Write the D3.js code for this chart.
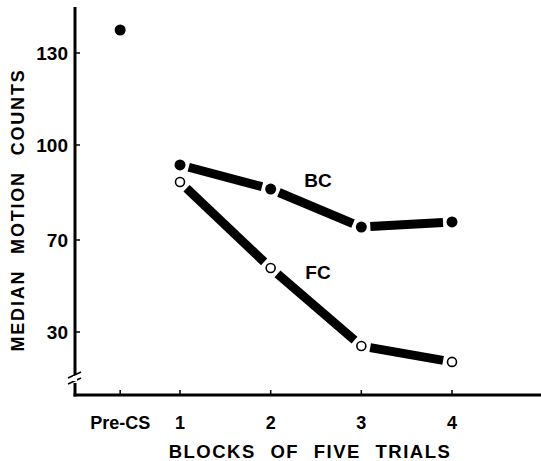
<!DOCTYPE html>
<html>
<head>
<meta charset="utf-8">
<script src="https://cdn.jsdelivr.net/npm/d3@7"></script>
<style>
  body { margin: 0; background: #fff; }
  text { font-family: "Liberation Sans", Arial, sans-serif; font-weight: bold; fill: #000; }
</style>
</head>
<body>
<div id="chart"></div>
<script>
'use strict'

// data
const xLabels = ['Pre-CS', '1', '2', '3', '4']
const xValues = [0.34, 1, 2, 3, 4]
const blocks = [1, 2, 3, 4]
const preCS = 137.5
const bcValues = [93.7, 86.1, 74.1, 75.7]
const fcValues = [88.3, 57.8, 23.9, 17.0]
const yTicks = [30, 70, 100, 130]

const width = 541
const height = 461

const svg = d3.select('#chart').append('svg')
  .attr('width', width)
  .attr('height', height)

// the printed axis is not evenly spaced, so map each labelled value
const y = d3.scaleLinear().domain(yTicks).range([332, 240, 145, 53])
const x = d3.scaleLinear().domain([1, 4]).range([180, 452])

const axisX = 75
const axisY = 395

// y axis with a break near the bottom
svg.append('line')
  .attr('x1', axisX).attr('x2', axisX)
  .attr('y1', 7).attr('y2', 375)
  .attr('stroke', '#000').attr('stroke-width', 3)
svg.append('line')
  .attr('x1', axisX).attr('x2', axisX)
  .attr('y1', 383).attr('y2', axisY + 1.5)
  .attr('stroke', '#000').attr('stroke-width', 3)
svg.selectAll('.brk').data([0, 6]).enter().append('line')
  .attr('x1', d => axisX - 7).attr('y1', d => 378 + d)
  .attr('x2', d => axisX + 6).attr('y2', d => 372 + d)
  .attr('stroke', '#000').attr('stroke-width', 1.5)
svg.append('rect')
  .attr('x', axisX - 2).attr('y', 376).attr('width', 4).attr('height', 5)
  .attr('fill', '#fff')

// x axis
svg.append('line')
  .attr('x1', axisX - 1.5).attr('x2', width)
  .attr('y1', axisY).attr('y2', axisY)
  .attr('stroke', '#000').attr('stroke-width', 3)

// y ticks
svg.selectAll('.ytick').data(yTicks).enter().append('line')
  .attr('x1', axisX).attr('x2', axisX + 5)
  .attr('y1', d => y(d)).attr('y2', d => y(d))
  .attr('stroke', '#000').attr('stroke-width', 1.5)
svg.selectAll('.ylab').data(yTicks).enter().append('text')
  .attr('x', 68).attr('y', d => y(d) + 7)
  .attr('text-anchor', 'end')
  .style('font-size', '19px')
  .text(d => d)

// x ticks
svg.selectAll('.xtick').data(xValues).enter().append('line')
  .attr('x1', d => x(d)).attr('x2', d => x(d))
  .attr('y1', axisY).attr('y2', axisY - 5)
  .attr('stroke', '#000').attr('stroke-width', 1.5)
svg.selectAll('.xlab').data(xLabels).enter().append('text')
  .attr('x', (d, i) => x(xValues[i]))
  .attr('y', 429)
  .attr('text-anchor', 'middle')
  .style('font-size', '18px')
  .text(d => d)

// axis titles
svg.append('text')
  .attr('x', 310).attr('y', 458)
  .attr('text-anchor', 'middle')
  .style('font-size', '18.5px')
  .style('letter-spacing', '1.5px')
  .style('word-spacing', '8px')
  .text('BLOCKS OF FIVE TRIALS')
svg.append('text')
  .attr('transform', 'translate(24,210) rotate(-90)')
  .attr('text-anchor', 'middle')
  .style('font-size', '18px')
  .style('letter-spacing', '1.8px')
  .style('word-spacing', '9px')
  .text('MEDIAN MOTION COUNTS')

// thick segments that stop short of the markers
function drawSeries (values) {
  const pts = blocks.map((b, i) => [x(b), y(values[i])])
  const segs = d3.pairs(pts)
  const gap = 9
  svg.append('g').selectAll('line').data(segs).enter().append('line')
    .attr('x1', d => {
      const a = Math.atan2(d[1][1] - d[0][1], d[1][0] - d[0][0])
      return d[0][0] + gap * Math.cos(a)
    })
    .attr('y1', d => {
      const a = Math.atan2(d[1][1] - d[0][1], d[1][0] - d[0][0])
      return d[0][1] + gap * Math.sin(a)
    })
    .attr('x2', d => {
      const a = Math.atan2(d[1][1] - d[0][1], d[1][0] - d[0][0])
      return d[1][0] - gap * Math.cos(a)
    })
    .attr('y2', d => {
      const a = Math.atan2(d[1][1] - d[0][1], d[1][0] - d[0][0])
      return d[1][1] - gap * Math.sin(a)
    })
    .attr('stroke', '#000')
    .attr('stroke-width', 9)
}

drawSeries(bcValues)
drawSeries(fcValues)

svg.append('g').selectAll('circle').data(bcValues).enter().append('circle')
  .attr('cx', (d, i) => x(blocks[i]))
  .attr('cy', d => y(d))
  .attr('r', 5.5)
  .attr('fill', '#000')

svg.append('g').selectAll('circle').data(fcValues).enter().append('circle')
  .attr('cx', (d, i) => x(blocks[i]))
  .attr('cy', d => y(d))
  .attr('r', 4.5)
  .attr('fill', '#fff')
  .attr('stroke', '#000')
  .attr('stroke-width', 1.6)

svg.append('circle')
  .attr('cx', x(xValues[0]))
  .attr('cy', y(preCS))
  .attr('r', 5.5)
  .attr('fill', '#000')

// series labels
svg.append('text')
  .attr('x', 318).attr('y', 187)
  .attr('text-anchor', 'middle')
  .style('font-size', '19px')
  .text('BC')
svg.append('text')
  .attr('x', 318).attr('y', 279)
  .attr('text-anchor', 'middle')
  .style('font-size', '19px')
  .text('FC')
</script>
</body>
</html>
